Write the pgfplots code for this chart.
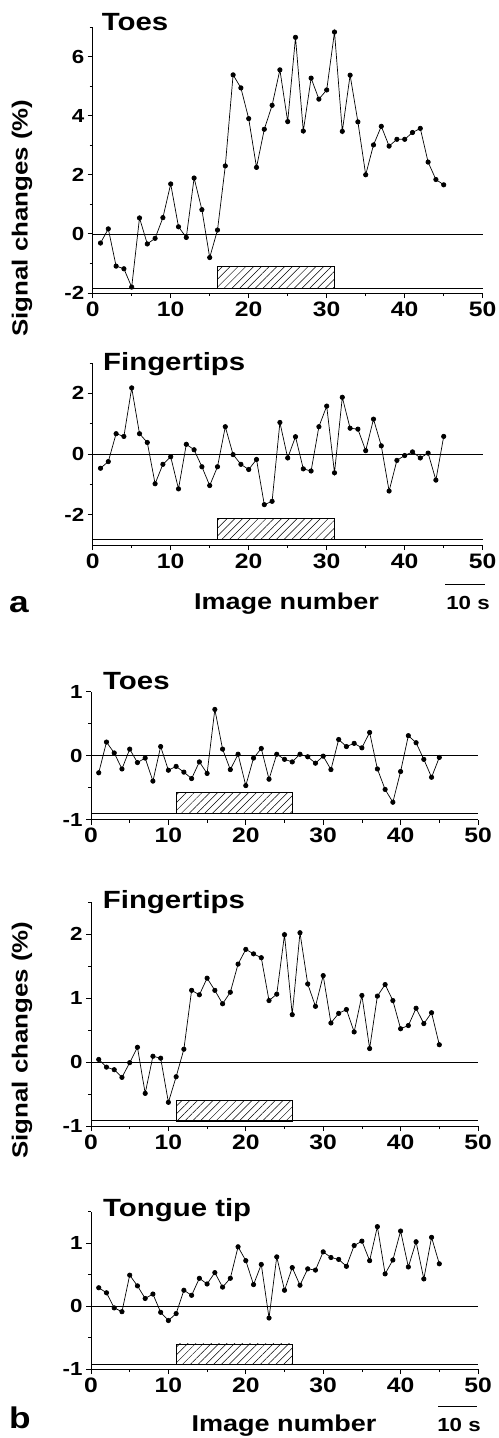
\documentclass[border=0pt]{standalone}
\usepackage{pgfplots}
\pgfplotsset{compat=1.18}
\usetikzlibrary{patterns.meta}
\usepackage{fontspec}
\setmainfont{Liberation Sans}
\newfontfamily\wide{Liberation Sans}[FakeStretch=1.18]

\pgfplotstableread{
x y
1 -0.31
2 0.17
3 -1.09
4 -1.18
5 -1.80
6 0.54
7 -0.34
8 -0.15
9 0.55
10 1.69
11 0.24
12 -0.12
13 1.89
14 0.82
15 -0.80
16 0.13
17 2.30
18 5.38
19 4.94
20 3.90
21 2.25
22 3.54
23 4.35
24 5.55
25 3.80
26 6.65
27 3.48
28 5.27
29 4.56
30 4.87
31 6.83
32 3.47
33 5.37
34 3.79
35 2.00
36 3.01
37 3.64
38 2.97
39 3.20
40 3.20
41 3.43
42 3.57
43 2.43
44 1.84
45 1.66
}\toesA

\pgfplotstableread{
x y
1 -0.47
2 -0.25
3 0.67
4 0.58
5 2.18
6 0.67
7 0.38
8 -0.98
9 -0.34
10 -0.09
11 -1.15
12 0.32
13 0.14
14 -0.42
15 -1.04
16 -0.42
17 0.90
18 -0.02
19 -0.34
20 -0.51
21 -0.18
22 -1.67
23 -1.56
24 1.04
25 -0.13
26 0.57
27 -0.49
28 -0.56
29 0.90
30 1.58
31 -0.62
32 1.87
33 0.85
34 0.82
35 0.11
36 1.15
37 0.27
38 -1.22
39 -0.21
40 -0.05
41 0.07
42 -0.13
43 0.03
44 -0.86
45 0.58
}\fingA

\pgfplotstableread{
x y
1 -0.27
2 0.21
3 0.04
4 -0.21
5 0.10
6 -0.11
7 -0.04
8 -0.40
9 0.14
10 -0.23
11 -0.17
12 -0.26
13 -0.36
14 -0.10
15 -0.28
16 0.72
17 0.10
18 -0.22
19 0.02
20 -0.47
21 -0.04
22 0.11
23 -0.37
24 0.02
25 -0.06
26 -0.10
27 0.02
28 -0.02
29 -0.12
30 -0.01
31 -0.22
32 0.25
33 0.14
34 0.19
35 0.12
36 0.36
37 -0.21
38 -0.53
39 -0.73
40 -0.25
41 0.31
42 0.20
43 -0.06
44 -0.34
45 -0.03
}\toesB

\pgfplotstableread{
x y
1 0.04
2 -0.08
3 -0.12
4 -0.24
5 -0.01
6 0.23
7 -0.49
8 0.09
9 0.06
10 -0.63
11 -0.23
12 0.20
13 1.12
14 1.05
15 1.31
16 1.12
17 0.91
18 1.09
19 1.53
20 1.76
21 1.69
22 1.63
23 0.96
24 1.06
25 1.99
26 0.74
27 2.02
28 1.22
29 0.87
30 1.35
31 0.61
32 0.76
33 0.82
34 0.47
35 1.04
36 0.21
37 1.03
38 1.21
39 0.96
40 0.52
41 0.57
42 0.84
43 0.60
44 0.77
45 0.27
}\fingB

\pgfplotstableread{
x y
1 0.29
2 0.21
3 -0.03
4 -0.09
5 0.49
6 0.32
7 0.12
8 0.19
9 -0.10
10 -0.23
11 -0.12
12 0.25
13 0.17
14 0.44
15 0.35
16 0.53
17 0.30
18 0.44
19 0.94
20 0.72
21 0.34
22 0.66
23 -0.19
24 0.78
25 0.25
26 0.61
27 0.33
28 0.59
29 0.57
30 0.86
31 0.77
32 0.74
33 0.63
34 0.96
35 1.03
36 0.72
37 1.26
38 0.51
39 0.73
40 1.19
41 0.62
42 1.02
43 0.43
44 1.09
45 0.67
}\tongue

\pgfplotsset{
  panel/.style={
    scale only axis, width=390bp,
    xmin=0, xmax=50,
    axis lines=left,
    axis line style={-, line width=0.9pt},
    xtick={0,10,...,50}, minor x tick num=1,
    tick align=outside,
    major tick length=5bp, minor tick length=3bp,
    tick style={black, line width=0.8pt},
    /pgf/number format/assume math mode=true,
    x tick label style={font=\wide\bfseries\fontsize{21}{22}\selectfont},
    y tick label style={font=\wide\bfseries\fontsize{19}{20}\selectfont},
    clip=false,
  },
  dat/.style={black, line width=0.7pt, mark=*, mark size=2.2bp},
  zl/.style={black, line width=0.6pt, forget plot},
  bl/.style={black, line width=0.9pt, forget plot},
  box/.style={draw=black, line width=0.6pt, pattern={Lines[angle=45,distance=5.5bp,line width=0.5pt]}},
}

\begin{document}
\begin{tikzpicture}
\useasboundingbox (0,0) rectangle (499bp,-1438bp);

% a: Toes
\begin{axis}[panel, at={(92.7bp,-293bp)}, anchor=south west, height=266bp,
  ymin=-2, ymax=7, ytick={-2,0,2,4,6}, minor ytick={-1,1,3,5,7}]
\addplot[bl] coordinates {(0,-1.84) (50,-1.84)};
\addplot[box] coordinates {(16,-1.84) (16,-1.1) (31,-1.1) (31,-1.84) (16,-1.84)};
\addplot[zl] coordinates {(0,0) (50,0)};
\addplot[dat] table[x=x,y=y] {\toesA};
\end{axis}

% a: Fingertips
\begin{axis}[panel, at={(92.7bp,-545bp)}, anchor=south west, height=182bp,
  ymin=-3, ymax=3, ytick={-2,0,2}, minor ytick={-1,1,3}]
\addplot[bl] coordinates {(0,-2.82) (50,-2.82)};
\addplot[box] coordinates {(16,-2.82) (16,-2.13) (31,-2.13) (31,-2.82) (16,-2.82)};
\addplot[zl] coordinates {(0,0) (50,0)};
\addplot[dat] table[x=x,y=y] {\fingA};
\end{axis}

% b: Toes
\begin{axis}[panel, at={(91bp,-819.5bp)}, anchor=south west, width=387bp, height=128bp,
  ymin=-1, ymax=1, ytick={-1,0,1}, minor ytick={-0.5,0.5}]
\addplot[bl] coordinates {(0,-0.91) (50,-0.91)};
\addplot[box] coordinates {(11,-0.91) (11,-0.58) (26,-0.58) (26,-0.91) (11,-0.91)};
\addplot[zl] coordinates {(0,0) (50,0)};
\addplot[dat] table[x=x,y=y] {\toesB};
\end{axis}

% b: Fingertips
\begin{axis}[panel, at={(91bp,-1126bp)}, anchor=south west, width=387bp, height=224bp,
  ymin=-1, ymax=2.5, ytick={-1,0,1,2}, minor ytick={-0.5,0.5,1.5,2.5}]
\addplot[bl] coordinates {(0,-0.92) (50,-0.92)};
\addplot[box] coordinates {(11,-0.92) (11,-0.6) (26,-0.6) (26,-0.92) (11,-0.92)};
\addplot[zl] coordinates {(0,0) (50,0)};
\addplot[dat] table[x=x,y=y] {\fingB};
\end{axis}

% b: Tongue tip
\begin{axis}[panel, at={(91bp,-1369bp)}, anchor=south west, width=387bp, height=157.5bp,
  ymin=-1, ymax=1.5, ytick={-1,0,1}, minor ytick={-0.5,0.5,1.5}]
\addplot[bl] coordinates {(0,-0.93) (50,-0.93)};
\addplot[box] coordinates {(11,-0.93) (11,-0.6) (26,-0.6) (26,-0.93) (11,-0.93)};
\addplot[zl] coordinates {(0,0) (50,0)};
\addplot[dat] table[x=x,y=y] {\tongue};
\end{axis}

% titles
\begin{scope}[every node/.style={inner sep=0pt, anchor=base west, font=\wide\bfseries\fontsize{25}{26}\selectfont}]
\node at (101.7bp,-30bp) {Toes};
\node at (103bp,-370bp) {Fingertips};
\node at (103bp,-689bp) {Toes};
\node at (102.7bp,-908bp) {Fingertips};
\node at (103bp,-1216.7bp) {Tongue tip};
\end{scope}

% axis labels
\node[rotate=90, font=\wide\bfseries\fontsize{22}{23}\selectfont] at (22bp,-218bp) {Signal changes (\%)};
\node[rotate=90, font=\wide\bfseries\fontsize{22}{23}\selectfont] at (22bp,-1040bp) {Signal changes (\%)};
\node[inner sep=0pt, anchor=base, font=\wide\bfseries\fontsize{23}{24}\selectfont] at (286.5bp,-609bp) {Image number};
\node[inner sep=0pt, anchor=base, font=\wide\bfseries\fontsize{23}{24}\selectfont] at (284bp,-1431bp) {Image number};
\node[inner sep=0pt, anchor=base, font=\wide\bfseries\fontsize{19}{20}\selectfont] at (468bp,-609bp) {10 s};
\node[inner sep=0pt, anchor=base, font=\wide\bfseries\fontsize{19}{20}\selectfont] at (459bp,-1431bp) {10 s};
\draw[line width=0.8pt] (445bp,-584bp) -- (485bp,-584bp);
\draw[line width=0.8pt] (438bp,-1406bp) -- (477bp,-1406bp);
\node[inner sep=0pt, anchor=base west, font=\wide\bfseries\fontsize{30}{31}\selectfont] at (9bp,-612bp) {a};
\node[inner sep=0pt, anchor=base west, font=\wide\bfseries\fontsize{30}{31}\selectfont] at (9bp,-1428bp) {b};
\end{tikzpicture}
\end{document}
